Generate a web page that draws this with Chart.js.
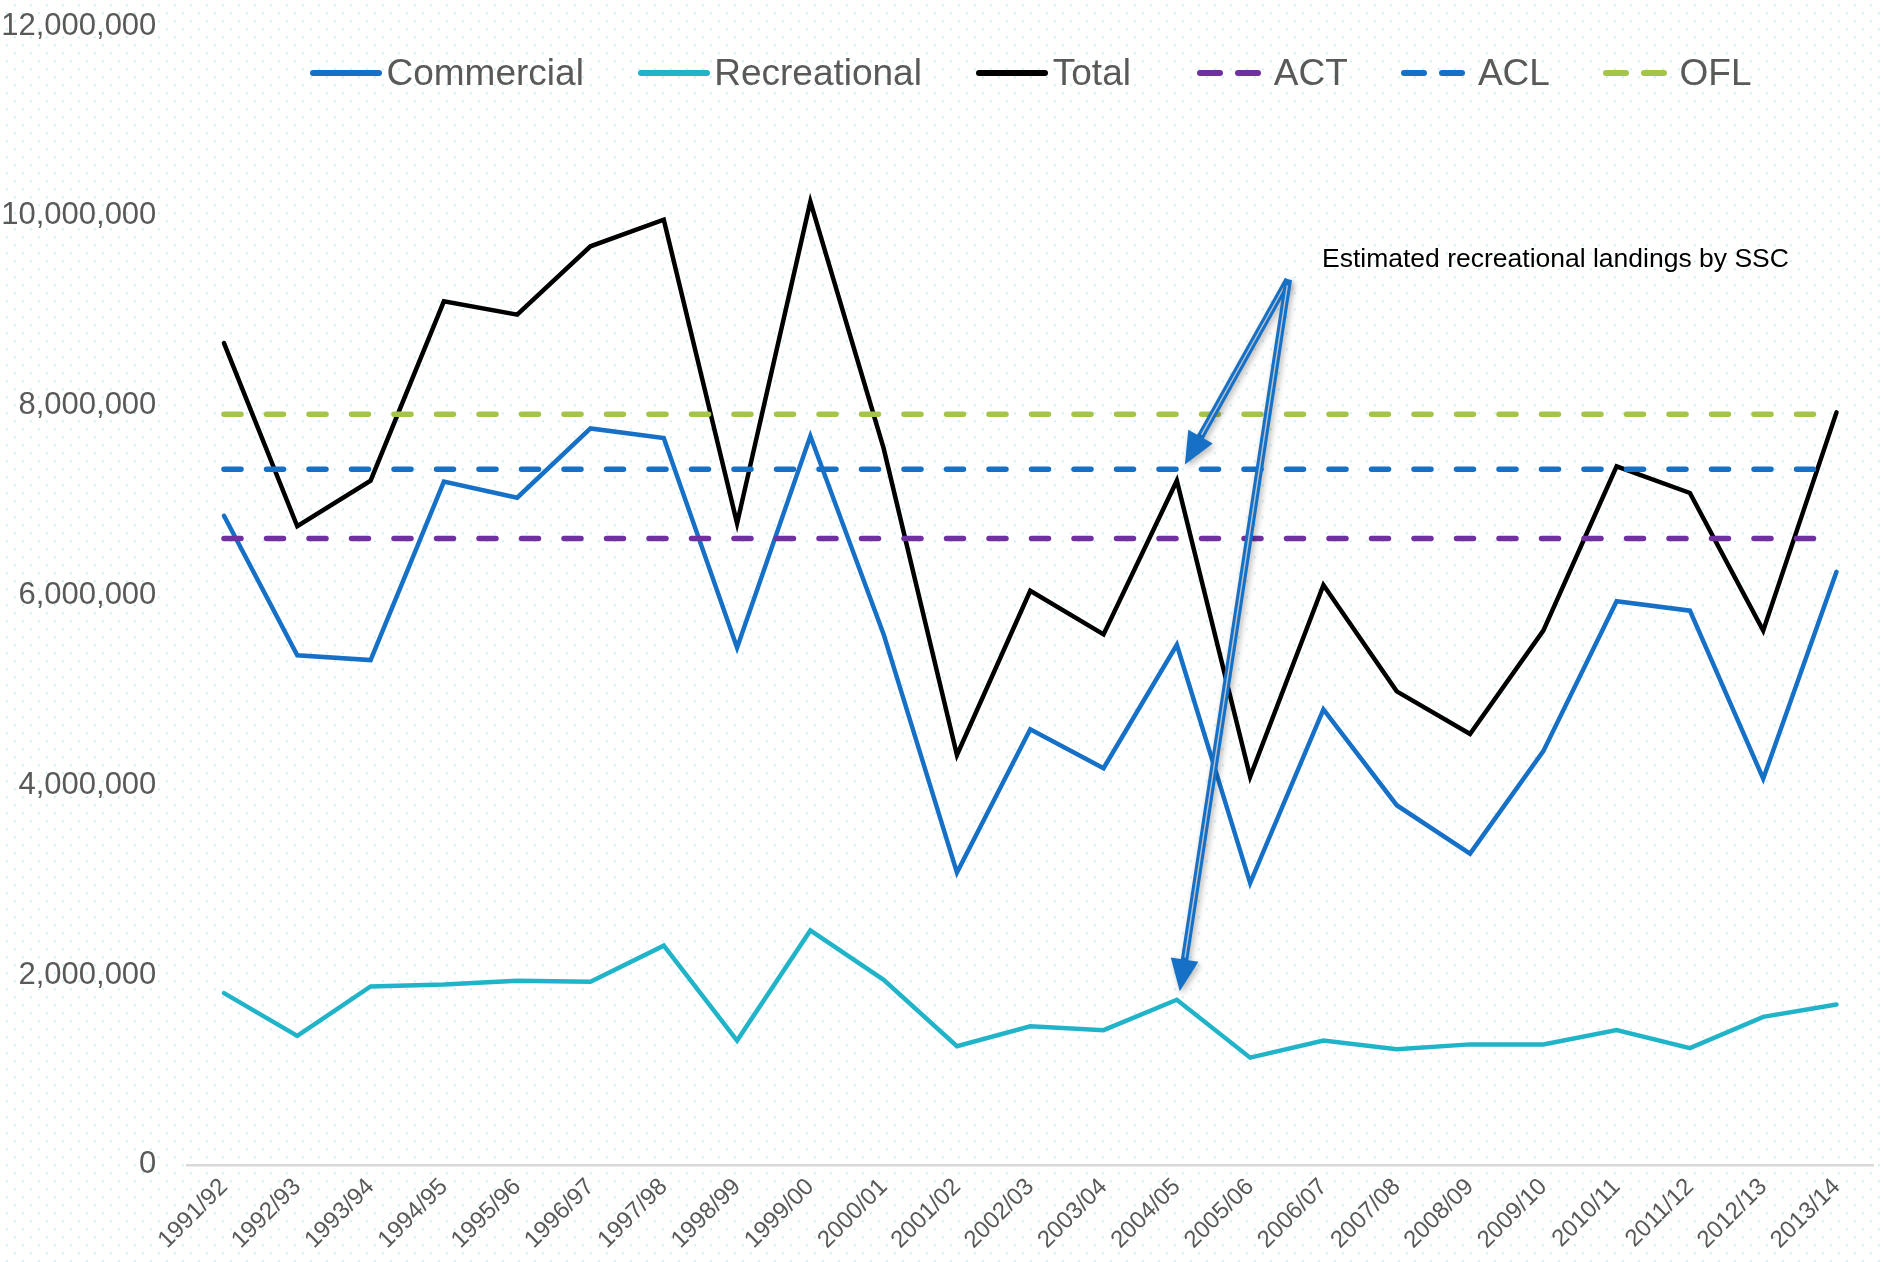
<!DOCTYPE html>
<html>
<head>
<meta charset="utf-8">
<title>Landings</title>
<script src="https://cdn.jsdelivr.net/npm/chart.js@4.4.0/dist/chart.umd.min.js"></script>
<style>
  body { margin: 0; background: #fff; }
  #wrap {
    position: relative;
    width: 1883px;
    height: 1262px;
    overflow: hidden;
    background-color: #fff;
    background-image:
      radial-gradient(circle at center, #cdeef3 0, #cdeef3 0.9px, rgba(255,255,255,0) 1.4px),
      radial-gradient(circle at center, #cdeef3 0, #cdeef3 0.9px, rgba(255,255,255,0) 1.4px);
    background-size: 16px 16px;
    background-position: 6.8px 13.3px, 14.8px 5.3px;
  }
  #chart { position: absolute; left: 0; top: 0; }
  .leg {
    position: absolute;
    top: 54px;
    height: 37px;
    display: flex;
    align-items: center;
    font-family: "Liberation Sans", Arial, sans-serif;
    font-size: 37px;
    line-height: 37px;
    color: #595959;
    white-space: nowrap;
  }
  .leg svg { margin-right: 4.5px; }
</style>
</head>
<body>
<div id="wrap">
  <canvas id="chart" width="1883" height="1262"></canvas>
  <div id="legend"></div>
</div>
<script>
'use strict';

// categories (fishing years)
var years = ['1991/92', '1992/93', '1993/94', '1994/95', '1995/96', '1996/97', '1997/98', '1998/99',
  '1999/00', '2000/01', '2001/02', '2002/03', '2003/04', '2004/05', '2005/06', '2006/07',
  '2007/08', '2008/09', '2009/10', '2010/11', '2011/12', '2012/13', '2013/14'];

// landings
var commercial = [6840000, 5370000, 5320000, 7200000, 7030000, 7760000, 7660000, 5450000,
  7680000, 5590000, 3080000, 4590000, 4180000, 5480000, 2970000, 4800000,
  3790000, 3280000, 4360000, 5940000, 5840000, 4070000, 6250000];
var recreational = [1810000, 1360000, 1880000, 1900000, 1940000, 1930000, 2310000, 1310000,
  2470000, 1950000, 1250000, 1460000, 1420000, 1740000, 1130000, 1310000,
  1220000, 1270000, 1270000, 1420000, 1230000, 1560000, 1690000];
var total = [8660000, 6730000, 7210000, 9100000, 8960000, 9680000, 9960000, 6760000,
  10150000, 7550000, 4320000, 6050000, 5590000, 7210000, 4090000, 6110000,
  4990000, 4540000, 5630000, 7360000, 7080000, 5630000, 7930000];

// management limits (flat lines)
var act = [6600000, 6600000, 6600000, 6600000, 6600000, 6600000, 6600000, 6600000, 6600000, 6600000, 6600000, 6600000,
  6600000, 6600000, 6600000, 6600000, 6600000, 6600000, 6600000, 6600000, 6600000, 6600000, 6600000];
var acl = [7330000, 7330000, 7330000, 7330000, 7330000, 7330000, 7330000, 7330000, 7330000, 7330000, 7330000, 7330000,
  7330000, 7330000, 7330000, 7330000, 7330000, 7330000, 7330000, 7330000, 7330000, 7330000, 7330000];
var ofl = [7910000, 7910000, 7910000, 7910000, 7910000, 7910000, 7910000, 7910000, 7910000, 7910000, 7910000, 7910000,
  7910000, 7910000, 7910000, 7910000, 7910000, 7910000, 7910000, 7910000, 7910000, 7910000, 7910000];

// y axis
var yMax = 12000000;
var yStep = 2000000;

var seriesNames = ['Commercial', 'Recreational', 'Total', 'ACT', 'ACL', 'OFL'];
var seriesColors = ['#1570c6', '#21b4c9', '#000000', '#7030a0', '#1570c6', '#a4c54a'];

// annotation text + arrow anchors in data units (category index, value)
var noteText = 'Estimated recreational landings by SSC';
var notePos = [14.98, 9540000];
var arrowFrom = [14.52, 9330000];
var arrowTips = [[13.11, 7380000], [13.04, 1830000]];

var fontFamily = '"Liberation Sans", Arial, sans-serif';

function withCommas(n) {
  return String(n).replace(/\B(?=(\d{3})+(?!\d))/g, ',');
}

// legend drawn as html so it can sit over the plot like the original
var legendLefts = [310, 637.7, 976.3, 1197.3, 1401.4, 1603];
function buildLegend() {
  var box = document.getElementById('legend');
  for (var i = 0; i < seriesNames.length; i++) {
    var item = document.createElement('div');
    item.className = 'leg';
    item.style.left = legendLefts[i] + 'px';
    var dash = i > 2 ? ' stroke-dasharray="20 18"' : '';
    item.innerHTML = '<svg width="72" height="12"><line x1="3" y1="6" x2="69" y2="6" stroke="' +
      seriesColors[i] + '" stroke-width="6" stroke-linecap="round"' + dash + '/></svg>' +
      '<span>' + seriesNames[i] + '</span>';
    box.appendChild(item);
  }
}

function drawArrow(ctx, x1, y1, x2, y2) {
  var ang = Math.atan2(y2 - y1, x2 - x1);
  var headLen = 32;
  var headHalf = 14;
  var bx = x2 - Math.cos(ang) * headLen;
  var by = y2 - Math.sin(ang) * headLen;

  ctx.save();
  ctx.shadowColor = 'rgba(0,0,0,0.28)';
  ctx.shadowBlur = 6;
  ctx.shadowOffsetX = 2;
  ctx.shadowOffsetY = 3;
  ctx.strokeStyle = '#1570c6';
  ctx.fillStyle = '#1570c6';
  ctx.lineWidth = 7.5;
  ctx.lineCap = 'butt';
  ctx.beginPath();
  ctx.moveTo(x1, y1);
  ctx.lineTo(bx + Math.cos(ang) * 4, by + Math.sin(ang) * 4);
  ctx.stroke();
  ctx.beginPath();
  ctx.moveTo(x2, y2);
  ctx.lineTo(bx + Math.cos(ang + Math.PI / 2) * headHalf, by + Math.sin(ang + Math.PI / 2) * headHalf);
  ctx.lineTo(bx - Math.cos(ang + Math.PI / 2) * headHalf, by - Math.sin(ang + Math.PI / 2) * headHalf);
  ctx.closePath();
  ctx.fill();
  ctx.restore();

  // thin light stripe down the middle of the shaft
  ctx.save();
  ctx.strokeStyle = '#b8c4d0';
  ctx.lineWidth = 1.4;
  ctx.beginPath();
  ctx.moveTo(x1 + Math.cos(ang) * 6, y1 + Math.sin(ang) * 6);
  ctx.lineTo(bx - Math.cos(ang) * 2, by - Math.sin(ang) * 2);
  ctx.stroke();
  ctx.restore();
}

var notePlugin = {
  id: 'sscNote',
  afterDatasetsDraw: function (chart) {
    var ctx = chart.ctx;
    var xs = chart.scales.x;
    var ys = chart.scales.y;
    var fx = xs.getPixelForValue(arrowFrom[0]);
    var fy = ys.getPixelForValue(arrowFrom[1]);
    for (var i = 0; i < arrowTips.length; i++) {
      drawArrow(ctx, fx, fy, xs.getPixelForValue(arrowTips[i][0]), ys.getPixelForValue(arrowTips[i][1]));
    }
    ctx.save();
    ctx.font = '26.5px ' + fontFamily;
    ctx.fillStyle = '#000';
    ctx.textAlign = 'left';
    ctx.textBaseline = 'middle';
    ctx.fillText(noteText, xs.getPixelForValue(notePos[0]), ys.getPixelForValue(notePos[1]));
    ctx.restore();
  }
};

function lineSet(label, data, color, order) {
  return {
    label: label,
    data: data,
    borderColor: color,
    backgroundColor: color,
    borderWidth: 4.5,
    borderCapStyle: 'round',
    pointRadius: 0,
    tension: 0,
    fill: false,
    order: order
  };
}

function dashSet(label, data, color, order) {
  var ds = lineSet(label, data, color, order);
  ds.borderWidth = 5.5;
  ds.borderDash = [17, 25.5];
  return ds;
}

function makeChart() {
  var ctx = document.getElementById('chart').getContext('2d');
  return new Chart(ctx, {
    type: 'line',
    data: {
      labels: years,
      datasets: [
        lineSet(seriesNames[0], commercial, seriesColors[0], 6),
        lineSet(seriesNames[1], recreational, seriesColors[1], 5),
        lineSet(seriesNames[2], total, seriesColors[2], 4),
        dashSet(seriesNames[3], act, seriesColors[3], 3),
        dashSet(seriesNames[4], acl, seriesColors[4], 2),
        dashSet(seriesNames[5], ofl, seriesColors[5], 1)
      ]
    },
    options: {
      responsive: false,
      animation: false,
      layout: { padding: { top: 26.1, right: 9.85, bottom: 0, left: 0 } },
      plugins: {
        legend: { display: false },
        tooltip: { enabled: false }
      },
      scales: {
        x: {
          offset: true,
          grid: { display: false, drawTicks: false },
          border: { display: true, color: '#d9d9d9', width: 2.5 },
          ticks: {
            color: '#595959',
            autoSkip: false,
            maxRotation: 45,
            minRotation: 45,
            padding: 8,
            font: { family: fontFamily, size: 24 }
          },
          afterFit: function (scale) { scale.height = 97.1; }
        },
        y: {
          min: 0,
          max: yMax,
          grid: { display: false, drawTicks: false },
          border: { display: false },
          ticks: {
            stepSize: yStep,
            color: '#595959',
            padding: 31,
            font: { family: fontFamily, size: 31 },
            callback: function (v) { return withCommas(v); }
          },
          afterFit: function (scale) {
            scale.width = 187.35;
            // tick padding is added to the top overhang; keep only half a label
            scale.paddingTop = 18;
            scale.paddingBottom = 18;
          }
        }
      }
    },
    plugins: [notePlugin]
  });
}

buildLegend();
makeChart();
</script>
</body>
</html>
